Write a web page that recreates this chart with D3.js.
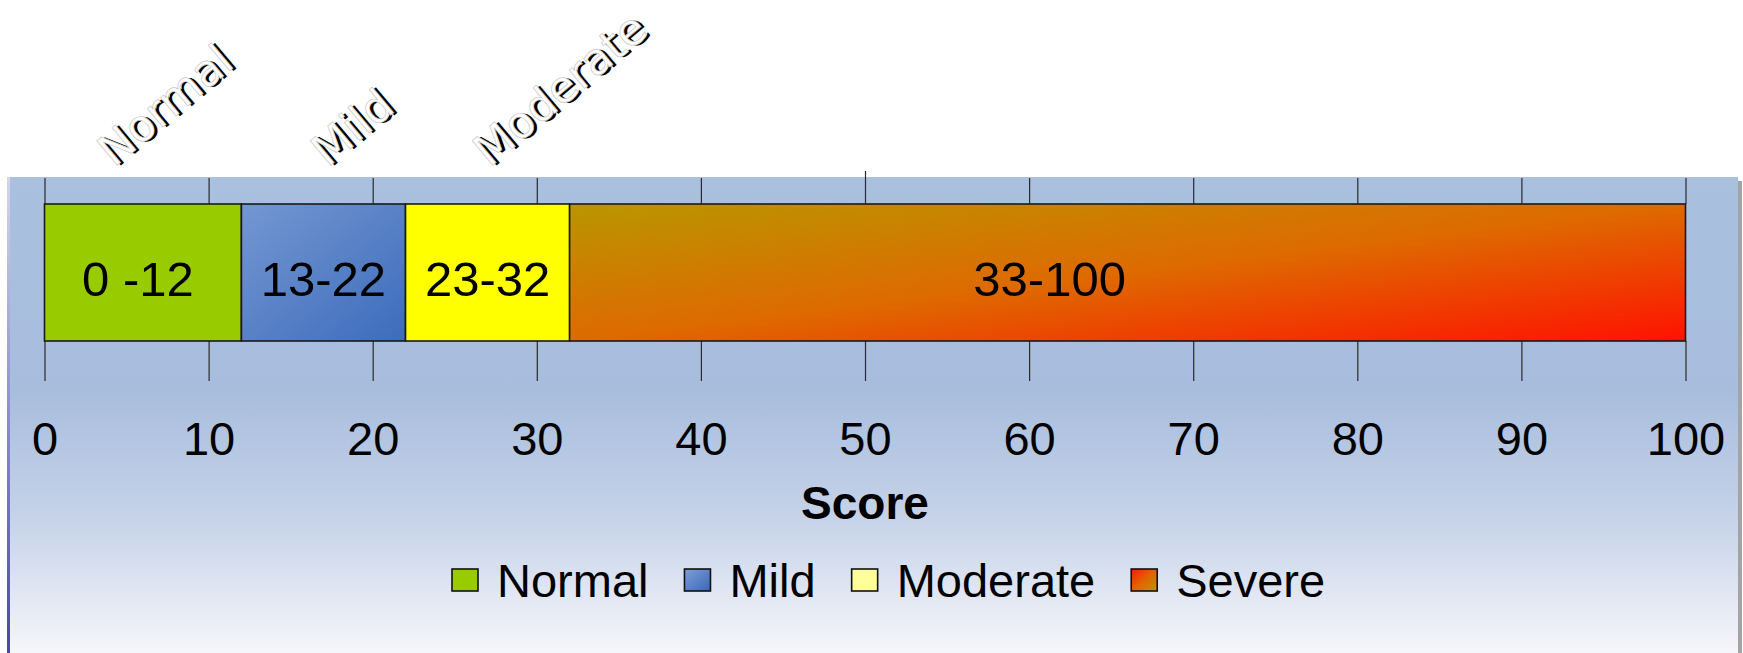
<!DOCTYPE html>
<html>
<head>
<meta charset="utf-8">
<script src="https://cdn.jsdelivr.net/npm/d3@7"></script>
<style>
  html, body { margin: 0; padding: 0; background: #ffffff; }
  svg { display: block; }
</style>
</head>
<body>
<svg id="chart" width="1743" height="653"></svg>
<script>
// Severity bands on a 0–100 score scale
const bands      = ["Normal", "Mild", "Moderate", "Severe"];
const bandSpans  = [12, 10, 10, 68];               // width of each band in score points
const bandLabels = ["0 -12", "13-22", "23-32", "33-100"];
const headerLabels = ["Normal", "Mild", "Moderate"];
const tickValues = [0, 10, 20, 30, 40, 50, 60, 70, 80, 90, 100];
const axisTitle  = "Score";

// layout
const W = 1743, H = 653;
const panel = { x: 10, y: 177, right: 1738 };
const barTop = 204, barBottom = 341;
const headerDx = [-29, 4, 2];   // nudges for the slanted headers
const FONT = "'Liberation Sans', Arial, sans-serif";

const svg = d3.select("#chart");
const defs = svg.append("defs");

// background panel gradient
const bg = defs.append("linearGradient").attr("id", "panelGrad")
  .attr("x1", 0).attr("y1", 0).attr("x2", 0).attr("y2", 1);
bg.append("stop").attr("offset", "0").attr("stop-color", "#a9c0df");
bg.append("stop").attr("offset", "0.45").attr("stop-color", "#a8bddd");
bg.append("stop").attr("offset", "0.72").attr("stop-color", "#c6d3e9");
bg.append("stop").attr("offset", "1").attr("stop-color", "#f6f6fa");

const edge = defs.append("linearGradient").attr("id", "edgeGrad")
  .attr("x1", 0).attr("y1", 0).attr("x2", 0).attr("y2", 1);
edge.append("stop").attr("offset", "0").attr("stop-color", "#d4d6ee");
edge.append("stop").attr("offset", "1").attr("stop-color", "#4646ac");

function diag(id, stops) {
  const g = defs.append("linearGradient").attr("id", id)
    .attr("x1", 0).attr("y1", 0).attr("x2", 1).attr("y2", 1);
  stops.forEach(([o, c]) => g.append("stop").attr("offset", o).attr("stop-color", c));
  return `url(#${id})`;
}
const barFill = [
  "#99cc00",
  diag("mildGrad", [[0, "#7497d1"], [1, "#3d6cbc"]]),
  "#ffff00",
  diag("severeGrad", [[0, "#b99600"], [0.5, "#de6a00"], [1, "#ff1200"]])
];
const keyFill = [
  "#99cc00",
  diag("mildKey", [[0, "#7fa0d8"], [1, "#3a66b8"]]),
  "#ffff99",
  diag("severeKey", [[0, "#ff1a00"], [0.5, "#e06400"], [1, "#b99600"]])
];

// panel
svg.append("rect").attr("x", panel.right).attr("y", panel.y + 4)
  .attr("width", 4).attr("height", H - panel.y).attr("fill", "#a4a4a4");
svg.append("rect").attr("x", panel.x).attr("y", panel.y)
  .attr("width", panel.right - panel.x).attr("height", H - panel.y)
  .attr("fill", "url(#panelGrad)");
svg.append("rect").attr("x", panel.x - 3).attr("y", panel.y)
  .attr("width", 3).attr("height", H - panel.y).attr("fill", "url(#edgeGrad)");

// scale
const x = d3.scaleLinear().domain([0, 100]).range([44.5, 1685.5]);

// axes: short ticks above the track, longer ticks with labels below
const topAxis = svg.append("g").attr("transform", `translate(0,${barTop})`)
  .call(d3.axisTop(x).tickValues(tickValues).tickSize(26).tickFormat(""));
topAxis.select(".domain").remove();
topAxis.selectAll(".tick line").attr("stroke", "#2a2a2a").attr("stroke-width", 1.2)
  .filter(d => d === 50).attr("y2", -33);

const bottomAxis = svg.append("g").attr("transform", `translate(0,${barBottom})`)
  .call(d3.axisBottom(x).tickValues(tickValues).tickSize(40).tickPadding(41)
    .tickFormat(d3.format("d")));
bottomAxis.select(".domain").remove();
bottomAxis.selectAll(".tick line").attr("stroke", "#2a2a2a").attr("stroke-width", 1.2);
bottomAxis.selectAll(".tick text")
  .attr("font-family", FONT).attr("font-size", 47).attr("fill", "#000");

// stacked bands
const ends = Array.from(d3.cumsum(bandSpans));
const segs = bands.map((b, i) => ({
  name: b, start: ends[i] - bandSpans[i], end: ends[i], label: bandLabels[i], i
}));

svg.append("g").selectAll("rect").data(segs).join("rect")
  .attr("x", d => x(d.start)).attr("y", barTop)
  .attr("width", d => x(d.end) - x(d.start)).attr("height", barBottom - barTop)
  .attr("fill", d => barFill[d.i])
  .attr("stroke", "#1a1a1a").attr("stroke-width", 1.6);

// the long last band keeps its label nearer the middle of the track
const labelAt = d => d.end - d.start > 50 ? (d.start + 90.5) / 2 : (d.start + d.end) / 2;
svg.append("g").selectAll("text").data(segs).join("text")
  .attr("x", d => x(labelAt(d)) - (d.i === 0 ? 5 : 0)).attr("y", 296)
  .attr("text-anchor", "middle")
  .attr("font-family", FONT).attr("font-size", 49).attr("fill", "#000")
  .text(d => d.label);

// axis title
svg.append("text").attr("x", (x(0) + x(100)) / 2).attr("y", 519)
  .attr("text-anchor", "middle").attr("font-family", FONT)
  .attr("font-size", 46).attr("font-weight", "bold").text(axisTitle);

// slanted headers with drop shadow
const heads = svg.append("g");
headerLabels.forEach((t, i) => {
  const seg = segs[i];
  const hx = x((seg.start + seg.end) / 2) + headerDx[i];
  const hy = 168;
  const g = heads.append("g").attr("transform", `translate(${hx},${hy}) rotate(-40)`);
  g.append("text").attr("x", 2.6).attr("y", 2.6)
    .attr("font-family", "'DejaVu Sans', sans-serif").attr("font-size", 44)
    .attr("fill", "#000").text(t);
  g.append("text").attr("x", 0).attr("y", 0)
    .attr("font-family", "'DejaVu Sans', sans-serif").attr("font-size", 44)
    .attr("fill", "#fff").attr("stroke", "#c8c8c8").attr("stroke-width", 0.7)
    .text(t);
});

// legend
const legend = svg.append("g").attr("transform", "translate(452,0)");
let lx = 0;
bands.forEach((b, i) => {
  legend.append("rect").attr("x", lx).attr("y", 569).attr("width", 26).attr("height", 22)
    .attr("fill", keyFill[i]).attr("stroke", "#111").attr("stroke-width", 1.6);
  const t = legend.append("text").attr("x", lx + 26 + 19).attr("y", 597)
    .attr("font-family", FONT).attr("font-size", 47).attr("fill", "#000").text(b);
  lx += 26 + 19 + t.node().getComputedTextLength() + 36;
});
</script>
</body>
</html>
